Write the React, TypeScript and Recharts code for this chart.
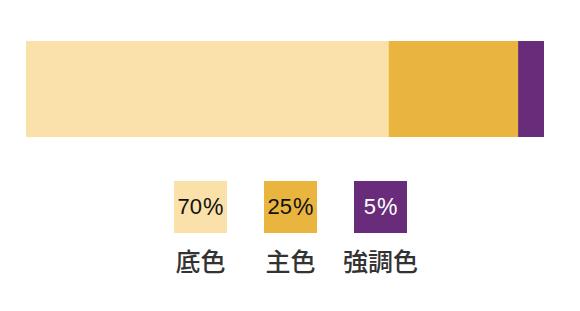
import React from 'react';
import { BarChart, Bar, XAxis, YAxis } from 'recharts';

const categories = ['底色', '主色', '強調色'];
const shares = [70, 25, 5];
const colors = ['#FAE1A9', '#EAB53F', '#692C7B'];
const textColors = ['#111111', '#111111', '#ffffff'];

const row: Record<string, number | string> = { name: 'palette' };
categories.forEach((c, i) => {
  row[c] = shares[i];
});
const chartData = [row];

const font = '"Noto Sans CJK JP", "Noto Sans", sans-serif';

export default function App() {
  return (
    <div style={{ position: 'relative', width: 564, height: 295, fontFamily: font }}>
      <BarChart
        width={564}
        height={140}
        data={chartData}
        layout="vertical"
        margin={{ top: 33, right: 28, bottom: 11, left: 18 }}
        barCategoryGap={0}
      >
        <XAxis type="number" domain={[0, 100]} hide />
        <YAxis type="category" dataKey="name" hide />
        {categories.map((c, i) => (
          <Bar key={c} dataKey={c} stackId="a" fill={colors[i]} isAnimationActive={false} />
        ))}
      </BarChart>

      {/* legend squares with share, label underneath */}
      {categories.map((c, i) => (
        <div key={c}>
          <div
            style={{
              position: 'absolute',
              left: 166 + i * 90,
              top: 173,
              width: 53,
              height: 52,
              background: colors[i],
              color: textColors[i],
              display: 'flex',
              alignItems: 'center',
              justifyContent: 'center',
              fontSize: 22,
              lineHeight: '52px',
              fontFamily: '"Liberation Sans", Arial, sans-serif',
            }}
          >
            {shares[i]}
            <span style={{ marginLeft: 1, fontSize: 23 }}>%</span>
          </div>
          <div
            style={{
              position: 'absolute',
              left: 166 + i * 90 + 26.5 - 60,
              top: 234,
              width: 120,
              height: 36,
              lineHeight: '36px',
              textAlign: 'center',
              fontSize: 25,
              fontWeight: 500,
              color: '#333333',
            }}
          >
            {c}
          </div>
        </div>
      ))}
    </div>
  );
}
